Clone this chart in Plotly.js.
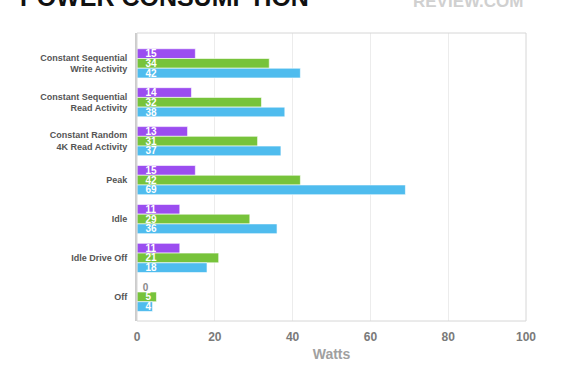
<!DOCTYPE html>
<html>
<head>
<meta charset="utf-8">
<script src="https://cdn.plot.ly/plotly-3.0.1.min.js"></script>
<style>
html,body{margin:0;padding:0;background:#fff;}
#chart{width:585px;height:390px;}
</style>
</head>
<body>
<div id="chart"></div>
<script>
const categories = [
  "Constant Sequential<br>Write Activity",
  "Constant Sequential<br>Read Activity",
  "Constant Random<br>4K Read Activity",
  "Peak",
  "Idle",
  "Idle Drive Off",
  "Off"
];
const purpleValues = [15, 14, 13, 15, 11, 11, 0];
const greenValues  = [34, 32, 31, 42, 29, 21, 5];
const blueValues   = [42, 38, 37, 69, 36, 18, 4];
const xTicks = [0, 20, 40, 60, 80, 100];

const FONT = 'Liberation Sans, Arial, Helvetica, sans-serif';
const PAD = '\u00a0\u00a0';

function makeTrace(vals, color) {
  return {
    type: 'bar',
    orientation: 'h',
    x: vals,
    y: categories,
    text: vals.map(v => (v === 0 ? '\u00a0' : PAD) + String(v)),
    textposition: vals.map(v => v === 0 ? 'outside' : 'inside'),
    insidetextanchor: 'start',
    textangle: 0,
    constraintext: 'none',
    cliponaxis: false,
    textfont: {family: FONT, size: 10, color: '#ffffff', weight: 'bold'},
    insidetextfont: {family: FONT, size: 10, color: '#ffffff', weight: 'bold'},
    outsidetextfont: {family: FONT, size: 10, color: '#8a8a8a', weight: 'bold'},
    marker: {color: color, line: {color: '#ffffff', width: 0.6}},
    hoverinfo: 'none',
    showlegend: false
  };
}

const data = [
  makeTrace(purpleValues, '#9b4df0'),
  makeTrace(greenValues, '#77c33b'),
  makeTrace(blueValues, '#4fbcee')
];

const layout = {
  width: 585,
  height: 390,
  margin: {l: 137, r: 59, t: 33, b: 69, pad: 0},
  paper_bgcolor: '#ffffff',
  plot_bgcolor: '#ffffff',
  barmode: 'group',
  bargap: 0.25,
  bargroupgap: 0,
  font: {family: FONT},
  xaxis: {
    range: [0, 100],
    tickvals: xTicks,
    ticktext: xTicks.map(String),
    showgrid: true,
    gridcolor: '#ececec',
    gridwidth: 1,
    zeroline: false,
    showline: false,
    ticks: '',
    ticklabelstandoff: 7,
    tickfont: {size: 12, color: '#7a7a7a', weight: 'bold'},
    title: {text: 'Watts', font: {size: 14, color: '#a0a0a0', weight: 'bold'}, standoff: 6},
    fixedrange: true
  },
  yaxis: {
    type: 'category',
    categoryorder: 'array',
    categoryarray: categories,
    range: [6.62, -0.78],
    showgrid: false,
    zeroline: false,
    showline: true,
    linecolor: '#cccccc',
    linewidth: 2,
    ticks: '',
    ticklabelstandoff: 6,
    tickfont: {size: 9, color: '#555555', weight: 'bold'},
    fixedrange: true
  },
  shapes: [
    {type: 'rect', xref: 'paper', yref: 'paper', x0: 0, x1: 1, y0: 0, y1: 1,
     line: {color: '#d6d6d6', width: 1}, fillcolor: 'rgba(0,0,0,0)', layer: 'above'}
  ],
  annotations: [
    {text: '<b>POWER CONSUMPTION</b>', xref: 'paper', yref: 'paper',
     x: -0.306, y: 1.069, xanchor: 'left', yanchor: 'bottom', showarrow: false,
     font: {family: FONT, size: 25, color: '#111111'}},
    {text: '<b>REVIEW.COM</b>', xref: 'paper', yref: 'paper',
     x: 1.0, y: 1.07, xanchor: 'right', yanchor: 'bottom', showarrow: false,
     font: {family: FONT, size: 17, color: '#d0d0d0'}}
  ]
};

Plotly.newPlot('chart', data, layout, {displayModeBar: false, staticPlot: true});
</script>
</body>
</html>
